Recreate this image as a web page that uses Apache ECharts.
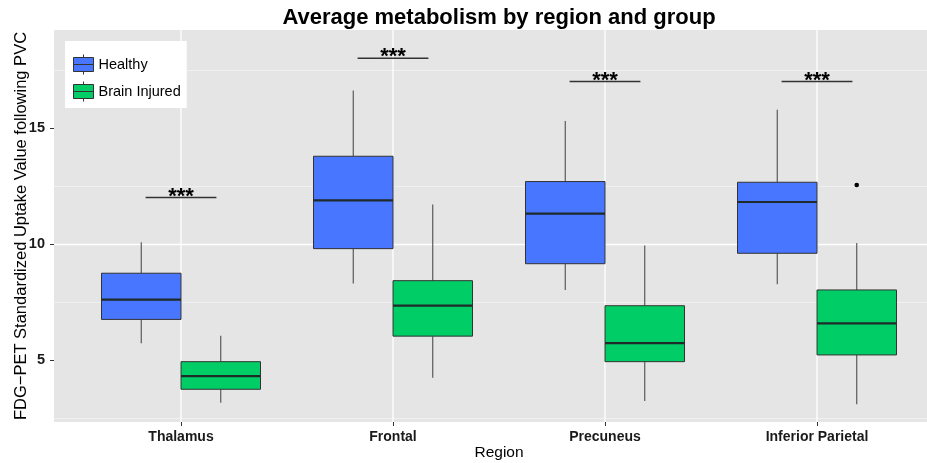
<!DOCTYPE html>
<html>
<head>
<meta charset="utf-8">
<script src="https://cdn.jsdelivr.net/npm/echarts@6/dist/echarts.min.js"></script>
<style>
html,body{margin:0;padding:0;background:#fff;}
#chart{width:927px;height:463px;}
</style>
</head>
<body>
<div id="chart"></div>
<script>
// ---- data ----
const categories = ['Thalamus', 'Frontal', 'Precuneus', 'Inferior Parietal'];
const groupNames = ['Healthy', 'Brain Injured'];
// [lower whisker, Q1, median, Q3, upper whisker]
const healthyStats = [
  [5.72, 6.75, 7.60, 8.74, 10.07],
  [8.30, 9.80, 11.88, 13.78, 16.61],
  [8.02, 9.15, 11.31, 12.69, 15.30],
  [8.26, 9.60, 11.81, 12.66, 15.78]
];
const injuredStats = [
  [3.16, 3.74, 4.31, 4.93, 6.05],
  [4.24, 6.03, 7.34, 8.42, 11.70],
  [3.23, 4.93, 5.73, 7.34, 9.93],
  [3.09, 5.22, 6.58, 8.02, 10.04]
];
const injuredOutliers = [['Inferior Parietal', 12.54]];
const significanceY = [12, 18, 17, 17];
const significanceLabels = ['***', '***', '***', '***'];
const yTicks = [5, 10, 15];
const yRange = [2.33, 19.22];

// ---- styles ----
const FONT = 'Liberation Sans, Arial, Helvetica, sans-serif';
const colors = ['#4876FF', '#00CD66'];
const DODGE = 0.1875;

function boxRenderer(groupIdx) {
  return function (params, api) {
    const c = api.value(0);
    const band = api.size([1, 0])[0];
    const hw = band * DODGE;
    const cx = api.coord([c, yRange[0]])[0] + (groupIdx === 0 ? -1 : 1) * hw;
    const yLo = api.coord([c, api.value(1)])[1];
    const yQ1 = api.coord([c, api.value(2)])[1];
    const yMed = api.coord([c, api.value(3)])[1];
    const yQ3 = api.coord([c, api.value(4)])[1];
    const yHi = api.coord([c, api.value(5)])[1];
    const ws = { stroke: '#4d4d4d', lineWidth: 1.1 };
    return {
      type: 'group',
      children: [
        { type: 'line', shape: { x1: cx, y1: yHi, x2: cx, y2: yQ3 }, style: ws },
        { type: 'line', shape: { x1: cx, y1: yQ1, x2: cx, y2: yLo }, style: ws },
        { type: 'rect', shape: { x: cx - hw, y: yQ3, width: 2 * hw, height: yQ1 - yQ3 },
          style: { fill: colors[groupIdx], stroke: '#333', lineWidth: 1 } },
        { type: 'line', shape: { x1: cx - hw, y1: yMed, x2: cx + hw, y2: yMed },
          style: { stroke: '#1f2a2a', lineWidth: 2.2 } }
      ]
    };
  };
}

const legendIcon = 'path://M10,0L10,3M0,3L20,3L20,17L0,17ZM0,10L20,10M10,17L10,20';

const option = {
  animation: false,
  backgroundColor: '#ffffff',
  textStyle: { fontFamily: FONT },
  title: {
    text: 'Average metabolism by region and group',
    left: 494, top: 2, textAlign: 'center',
    textStyle: { fontFamily: FONT, fontSize: 22, fontWeight: 'bold', color: '#000' }
  },
  legend: {
    left: 65, top: 41,
    orient: 'vertical',
    backgroundColor: '#ffffff',
    padding: [13, 6, 6, 8],
    itemWidth: 20, itemHeight: 20, itemGap: 6,
    textStyle: { fontFamily: FONT, fontSize: 14.5, color: '#000' },
    data: groupNames.map((n, i) => ({
      name: n, icon: legendIcon,
      itemStyle: { color: colors[i], borderColor: '#333', borderWidth: 1 }
    }))
  },
  grid: [
    { left: 54, right: 0, top: 30, bottom: 41, show: true, backgroundColor: '#E5E5E5', borderWidth: 0, outerBoundsMode: 'none', containLabel: false },
    { left: 75, right: 4, top: 30, bottom: 41, outerBoundsMode: 'none', containLabel: false }
  ],
  xAxis: [
    { gridIndex: 0, type: 'value', show: false, min: 0, max: 1 },
    {
      gridIndex: 1, type: 'category', data: categories,
      name: 'Region', nameLocation: 'middle', nameGap: 23, nameMoveOverlap: false,
      nameTextStyle: { fontFamily: FONT, fontSize: 15.5, color: '#000' },
      axisLine: { show: false },
      axisTick: { show: true, alignWithLabel: true, length: 4, lineStyle: { color: '#333' } },
      axisLabel: { fontFamily: FONT, fontSize: 14, fontWeight: 'bold', color: '#1a1a1a', margin: 8 },
      splitLine: { show: false }
    }
  ],
  yAxis: [
    {
      gridIndex: 0, type: 'value', min: yRange[0], max: yRange[1],
      minInterval: 5, maxInterval: 5,
      name: 'FDG\u2212PET Standardized Uptake Value following PVC',
      nameLocation: 'middle', nameGap: 24, nameRotate: 90, nameMoveOverlap: false,
      nameTextStyle: { fontFamily: FONT, fontSize: 16.5, color: '#000' },
      axisLine: { show: false },
      axisTick: { show: true, length: 4, customValues: yTicks, lineStyle: { color: '#333' } },
      axisLabel: { customValues: yTicks, fontFamily: FONT, fontSize: 14.5, fontWeight: 'bold', color: '#1a1a1a', margin: 9 },
      splitLine: { show: true, showMinLine: false, showMaxLine: false, lineStyle: { color: '#ffffff', width: 1.3 } },
      minorTick: { show: false, splitNumber: 2 },
      minorSplitLine: { show: true, lineStyle: { color: '#F2F2F2', width: 0.8 } }
    },
    { gridIndex: 1, type: 'value', min: yRange[0], max: yRange[1], show: false }
  ],
  series: [
    {
      name: 'vgrid', type: 'custom', xAxisIndex: 1, yAxisIndex: 1, z: 1, silent: true,
      data: categories.map((c, i) => [i]),
      encode: { x: 0 },
      renderItem: function (params, api) {
        const x = api.coord([api.value(0), yRange[0]])[0];
        const cs = params.coordSys;
        return { type: 'line', shape: { x1: x, y1: cs.y, x2: x, y2: cs.y + cs.height },
          style: { stroke: '#ffffff', lineWidth: 1.3 } };
      }
    },
    {
      name: groupNames[0], type: 'custom', xAxisIndex: 1, yAxisIndex: 1, z: 3,
      data: healthyStats.map((s, i) => [i].concat(s)),
      encode: { x: 0, y: [1, 2, 3, 4, 5] },
      itemStyle: { color: colors[0] },
      renderItem: boxRenderer(0)
    },
    {
      name: groupNames[1], type: 'custom', xAxisIndex: 1, yAxisIndex: 1, z: 3,
      data: injuredStats.map((s, i) => [i].concat(s)),
      encode: { x: 0, y: [1, 2, 3, 4, 5] },
      itemStyle: { color: colors[1] },
      renderItem: boxRenderer(1)
    },
    {
      name: 'outliers', type: 'custom', xAxisIndex: 1, yAxisIndex: 1, z: 3,
      data: injuredOutliers.map(o => [categories.indexOf(o[0]), o[1]]),
      encode: { x: 0, y: 1 },
      renderItem: function (params, api) {
        const band = api.size([1, 0])[0];
        const p = api.coord([api.value(0), api.value(1)]);
        return { type: 'circle', shape: { cx: p[0] + band * DODGE, cy: p[1], r: 2.3 }, style: { fill: '#000' } };
      }
    },
    {
      name: 'significance', type: 'custom', xAxisIndex: 1, yAxisIndex: 1, z: 3,
      data: significanceY.map((v, i) => [i, v]),
      encode: { x: 0, y: 1 },
      renderItem: function (params, api) {
        const band = api.size([1, 0])[0];
        const p = api.coord([api.value(0), api.value(1)]);
        const hw = band * 0.167;
        return {
          type: 'group',
          children: [
            { type: 'line', shape: { x1: p[0] - hw, y1: p[1], x2: p[0] + hw, y2: p[1] },
              style: { stroke: '#333', lineWidth: 1.4 } },
            { type: 'text', x: p[0], y: p[1] - 1,
              style: { text: significanceLabels[params.dataIndex], fill: '#000',
                font: 'bold 22px ' + FONT, align: 'center', verticalAlign: 'middle' } }
          ]
        };
      }
    }
  ]
};

const chart = echarts.init(document.getElementById('chart'), null, { renderer: 'canvas' });
chart.setOption(option);
</script>
</body>
</html>
